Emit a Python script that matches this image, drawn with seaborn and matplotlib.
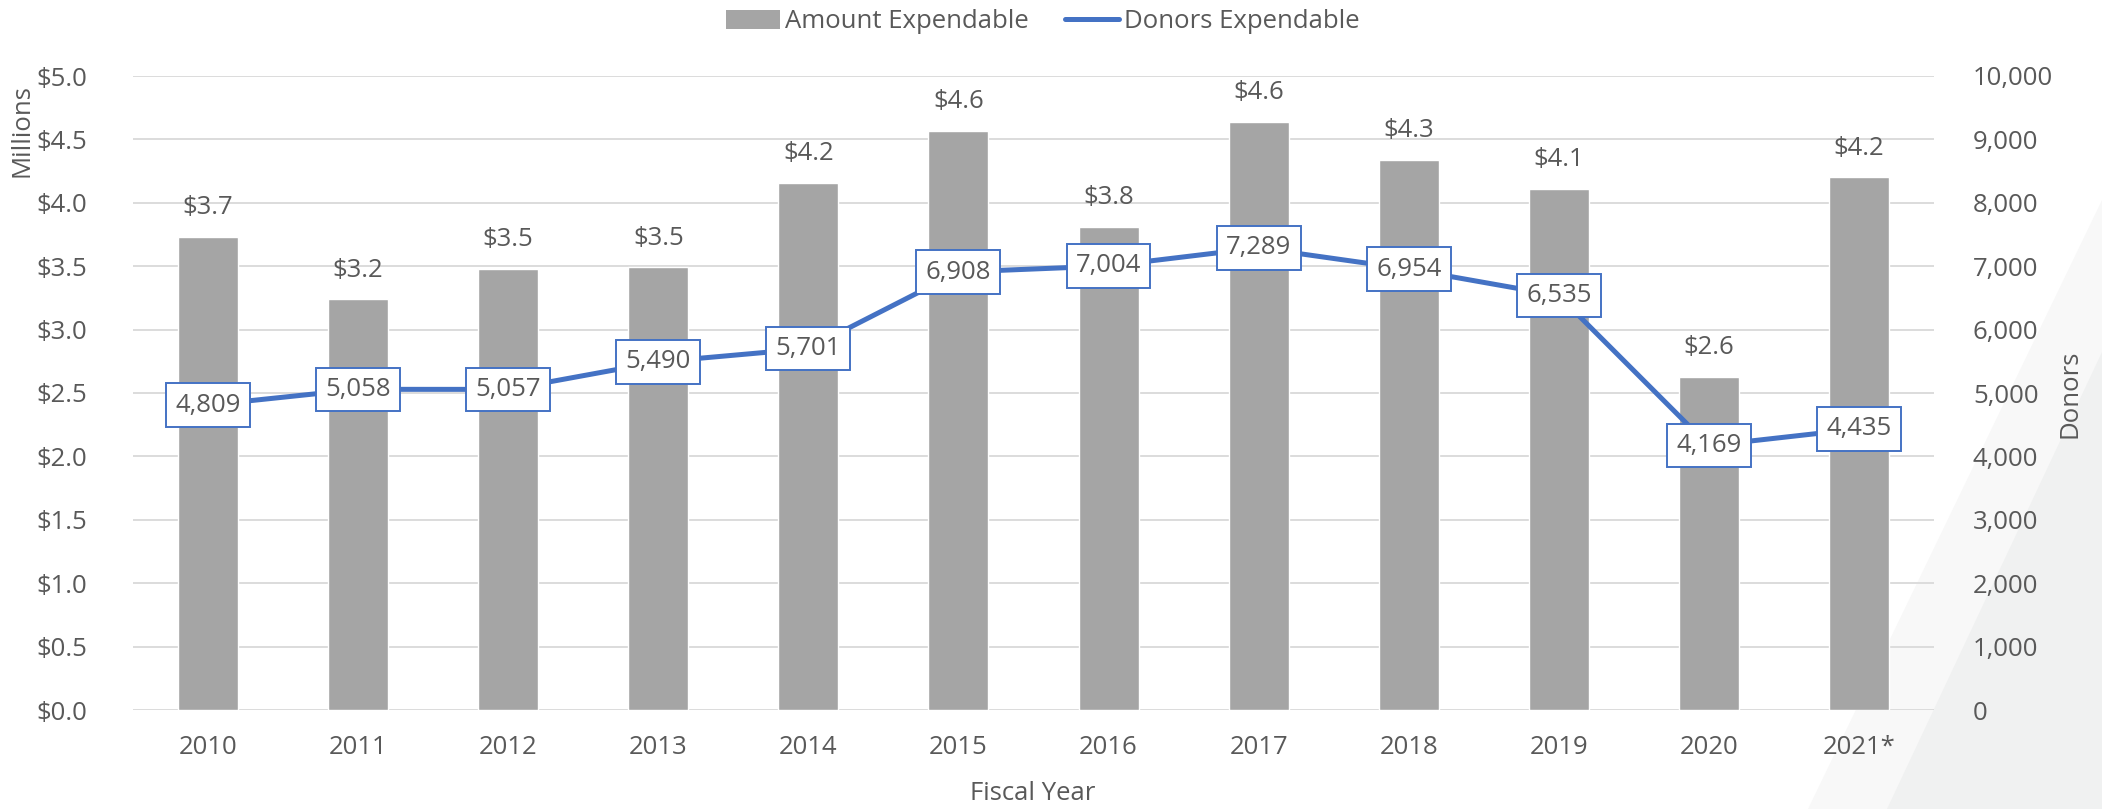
import numpy as np
import matplotlib
matplotlib.use("Agg")
import matplotlib.pyplot as plt
from matplotlib.patches import Patch, Polygon
from matplotlib.lines import Line2D
import seaborn as sns

years = ['2010', '2011', '2012', '2013', '2014', '2015', '2016', '2017', '2018', '2019', '2020', '2021*']
amount = [3.73, 3.24, 3.48, 3.49, 4.16, 4.57, 3.81, 4.64, 4.34, 4.11, 2.63, 4.20]
donors = [4809, 5058, 5057, 5490, 5701, 6908, 7004, 7289, 6954, 6535, 4169, 4435]
left_ticks = [0, 0.5, 1.0, 1.5, 2.0, 2.5, 3.0, 3.5, 4.0, 4.5, 5.0]
right_ticks = [0, 1000, 2000, 3000, 4000, 5000, 6000, 7000, 8000, 9000, 10000]

sns.set_theme(style="white")
plt.rcParams['font.family'] = ['Open Sans', 'DejaVu Sans']
txt = '#595959'
grid = '#d9d9d9'
bar_col = '#a5a5a5'
line_col = '#4472c4'
fs = 18.5

W, H = 2102, 809
fig = plt.figure(figsize=(W / 100, H / 100), dpi=100, facecolor='white')

# faint diagonal background stripes, bottom right
fig.patches.append(Polygon([(1808 / W, 0), (1.0, 1 - 200 / H), (1.0, 0)], closed=True,
                           transform=fig.transFigure, fc='#f8f8f8', ec='none', zorder=-10))
fig.patches.append(Polygon([(1887 / W, 0), (1.0, 1 - 352 / H), (1.0, 0)], closed=True,
                           transform=fig.transFigure, fc='#f0f1f1', ec='none', zorder=-9))

ax = fig.add_axes([133 / W, 1 - 710 / H, (1934 - 133) / W, (710 - 76) / H])
ax.patch.set_visible(False)

sns.barplot(x=years, y=amount, color=bar_col, saturation=1, width=0.4, ax=ax, zorder=2)
ax.set_ylim(0, 5)
ax.set_yticks(left_ticks)
ax.set_yticklabels(['${:.1f}'.format(v) for v in left_ticks])
ax.yaxis.grid(True, color=grid, linewidth=1.3, zorder=0)
ax.set_axisbelow(True)
for s in ax.spines.values():
    s.set_visible(False)
ax.tick_params(axis='both', length=0, labelsize=fs, labelcolor=txt)
ax.tick_params(axis='y', pad=33)
ax.tick_params(axis='x', pad=18)
ax.set_xlabel('')
ax.set_ylabel('')

for i, v in enumerate(amount):
    ax.annotate('${:.1f}'.format(v), (i, v), xytext=(0, 21), textcoords='offset points',
                ha='center', va='center', fontsize=fs, color=txt)

ax2 = ax.twinx()
ax2.patch.set_visible(False)
ax2.plot(np.arange(len(years)), donors, color=line_col, linewidth=3.6, solid_capstyle='round', zorder=3)
ax2.set_ylim(0, 10000)
ax2.set_yticks(right_ticks)
ax2.set_yticklabels(['{:,}'.format(v) for v in right_ticks])
for s in ax2.spines.values():
    s.set_visible(False)
ax2.tick_params(axis='y', length=0, labelsize=fs, labelcolor=txt, pad=28)
ax2.set_xlim(-0.5, len(years) - 0.5)

for i, v in enumerate(donors):
    ax2.text(i, v, '{:,}'.format(v), ha='center', va='center', fontsize=fs, color=txt, zorder=4,
             bbox=dict(boxstyle='square,pad=0.36', fc='white', ec=line_col, lw=1.4))

fig.text(22 / W, 1 - 131 / H, 'Millions', rotation=90, ha='center', va='center', fontsize=fs, color=txt)
fig.text(2070 / W, 1 - 394 / H, 'Donors', rotation=90, ha='center', va='center', fontsize=fs, color=txt)
fig.text(1033 / W, 1 - 793 / H, 'Fiscal Year', ha='center', va='center', fontsize=fs, color=txt)

handles = [Patch(fc=bar_col, ec='none', label='Amount Expendable'),
           Line2D([0], [0], color=line_col, linewidth=3.6, solid_capstyle='round', label='Donors Expendable')]
fig.legend(handles=handles, loc='center', bbox_to_anchor=(1043 / W, 1 - 22 / H), ncol=2, frameon=False,
           fontsize=fs, labelcolor=txt, handlelength=2.1, handleheight=0.8, handletextpad=0.2,
           columnspacing=1.4, borderaxespad=0)

fig.savefig('out.png', dpi=100, facecolor='white')
